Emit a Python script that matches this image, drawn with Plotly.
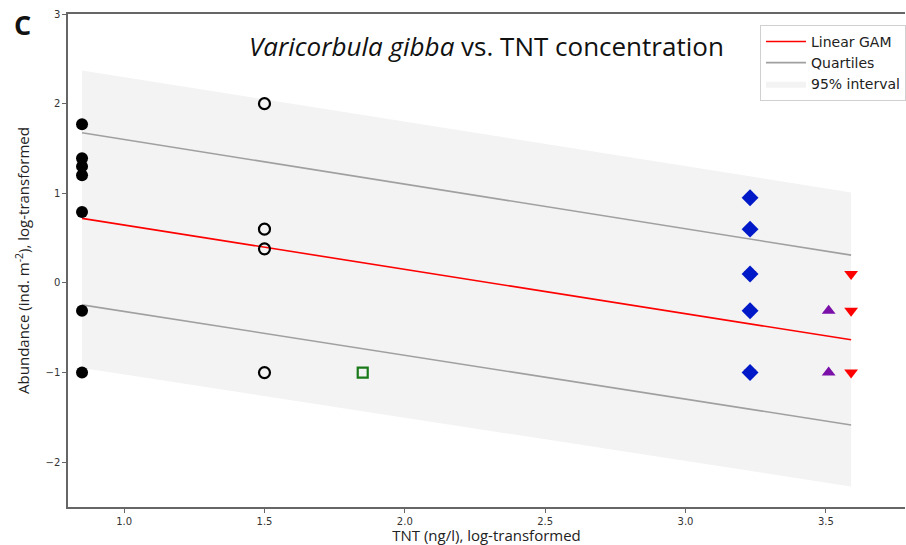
import plotly.graph_objects as go

# ---- data ----
x_ref = [0.85] * 7
y_ref = [1.77, 1.39, 1.30, 1.20, 0.79, -0.31, -1.0]
x_open = [1.5] * 4
y_open = [2.0, 0.60, 0.38, -1.0]
x_sq = [1.85]
y_sq = [-1.0]
x_dia = [3.23] * 5
y_dia = [0.95, 0.60, 0.10, -0.31, -1.0]
x_red_hidden = [3.23] * 3
y_red_hidden = [0.10, -0.31, -1.0]
x_up = [3.51] * 2
y_up = [-0.31, -1.0]
x_down = [3.59] * 3
y_down = [0.10, -0.31, -1.0]

x_fit = [0.85, 3.59]
gam = [0.72, -0.635]
q_upper = [1.675, 0.31]
q_lower = [-0.245, -1.585]
band_upper = [2.37, 1.01]
band_lower = [-0.95, -2.27]

x_ticks = [1.0, 1.5, 2.0, 2.5, 3.0, 3.5]
y_ticks = [-2, -1, 0, 1, 2, 3]

fig = go.Figure()

# 95% band
fig.add_trace(go.Scatter(x=x_fit + x_fit[::-1], y=band_upper + band_lower[::-1],
                         fill="toself", fillcolor="#f3f3f3",
                         line=dict(width=0), mode="lines", name="95% interval",
                         showlegend=True, legendrank=3, hoverinfo="skip"))
fig.add_trace(go.Scatter(x=x_fit, y=q_upper, mode="lines", name="Quartiles", legendrank=2,
                         line=dict(color="#a0a0a0", width=1.6), showlegend=True))
fig.add_trace(go.Scatter(x=x_fit, y=q_lower, mode="lines",
                         line=dict(color="#a0a0a0", width=1.6), showlegend=False))
fig.add_trace(go.Scatter(x=x_fit, y=gam, mode="lines", name="Linear GAM", legendrank=1,
                         line=dict(color="red", width=1.6), showlegend=True))

mk = dict(mode="markers", showlegend=False)
fig.add_trace(go.Scatter(x=x_ref, y=y_ref, marker=dict(symbol="circle", size=12, color="black"), **mk))
fig.add_trace(go.Scatter(x=x_open, y=y_open, marker=dict(symbol="circle-open", size=11, color="black", line=dict(width=2.2)), **mk))
fig.add_trace(go.Scatter(x=x_sq, y=y_sq, marker=dict(symbol="square-open", size=10, color="#1a7a1a", line=dict(width=2.2)), **mk))
fig.add_trace(go.Scatter(x=x_red_hidden, y=y_red_hidden, marker=dict(symbol="triangle-down", size=11, color="red"), **mk))
fig.add_trace(go.Scatter(x=x_dia, y=y_dia, marker=dict(symbol="diamond", size=13, color="#0019c8"), **mk))
fig.add_trace(go.Scatter(x=x_up, y=y_up, marker=dict(symbol="triangle-up", size=12, color="#7a10a8"), **mk))
fig.add_trace(go.Scatter(x=x_down, y=y_down, marker=dict(symbol="triangle-down", size=12, color="red"), **mk))

axis_font = dict(family="DejaVu Sans", size=10, color="#333")
fig.update_layout(
    width=906, height=545,
    margin=dict(l=68, r=0, t=14, b=38),
    paper_bgcolor="white", plot_bgcolor="white",
    font=dict(family="Open Sans", color="#222"),
    xaxis=dict(range=[0.8, 3.782], tickvals=x_ticks, ticktext=[f"{v:.1f}" for v in x_ticks],
               showgrid=False, zeroline=False, showline=True, linecolor="#666", linewidth=1.5,
               mirror=True, ticks="outside", ticklen=4, tickcolor="#666", tickfont=axis_font,
               title=dict(text="TNT (ng/l), log-transformed", font=dict(size=15, family="Open Sans"), standoff=3)),
    yaxis=dict(range=[-2.5, 3], tickvals=y_ticks, ticktext=[("\u2212" + str(-v)) if v < 0 else str(v) for v in y_ticks],
               showgrid=False, zeroline=False, showline=True, linecolor="#666", linewidth=1.5,
               ticks="outside", ticklen=4, tickcolor="#666", tickfont=axis_font,
               title=dict(text="Abundance (ind. m<sup>-2</sup>), log-transformed", font=dict(size=15, family="Open Sans"), standoff=12)),
    legend=dict(x=0.827, y=0.978, xanchor="left", yanchor="top", bgcolor="rgba(255,255,255,0.9)",
                bordercolor="#d0d0d0", borderwidth=1, font=dict(size=14, family="DejaVu Sans", color="#222"),
                tracegroupgap=0, itemwidth=40),
    annotations=[
        dict(text="<i>Varicorbula gibba</i> vs. TNT concentration", xref="paper", yref="paper",
             x=0.5, y=(507 - 46) / 493, xanchor="center", yanchor="middle", showarrow=False,
             font=dict(size=26, family="Open Sans", color="#111")),
        dict(text="<b>C</b>", xref="paper", yref="paper", x=(22 - 68) / 838, y=(507 - 25) / 493,
             xanchor="center", yanchor="middle", showarrow=False,
             font=dict(size=27, family="Open Sans", color="#111")),
    ],
)

fig.write_html("out.html")
